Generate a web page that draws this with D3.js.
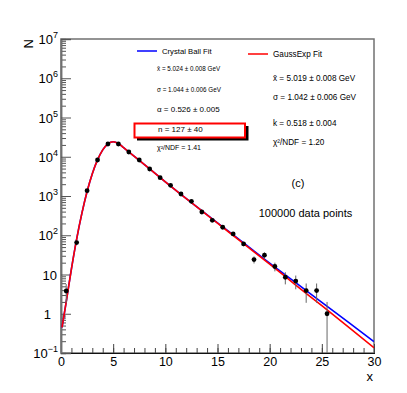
<!DOCTYPE html>
<html lang="en">
  <head>
    <meta charset="UTF-8">
    <title>Crystal Ball vs GaussExp</title>
    <style>
      body { margin: 0; background: #fff; }
      text { font-family: "Liberation Sans", Arial, sans-serif; fill: #000; }
    </style>
  </head>
  <body>
    <svg id="chart"></svg>

    <script src="https://cdn.jsdelivr.net/npm/d3@7"></script>

    <script>
      // Histogram bins (centres) and counts
      var binCenters = [0.5, 1.5, 2.5, 3.5, 4.5, 5.5, 6.5, 7.5, 8.5, 9.5, 10.5, 11.5, 12.5,
        13.5, 14.5, 15.5, 16.5, 17.5, 18.5, 19.5, 20.5, 21.5, 22.5, 23.5, 24.5, 25.5];
      var counts = [3.8, 65, 1365, 8260, 21100, 21100, 13200, 8260, 4870, 2930, 1875, 1125, 733,
        391, 240, 160, 108, 60, 24, 31, 16, 8.5, 6.8, 3.9, 3.9, 1];
      var countErrors = [1.9, 8, 37, 91, 145, 145, 115, 91, 70, 54, 43, 34, 27,
        20, 15, 13, 10, 7.7, 4.9, 5.6, 4, 2.9, 2.6, 2, 2, 1];

      // Fit curves
      var curveX = [0.1, 0.5, 1, 1.5, 2, 2.5, 3, 3.5, 4, 4.5, 5, 5.5, 6, 7, 8, 10, 12.5, 15, 17.5, 20, 22.5, 25, 27.5, 30];
      var gaussExpY = [0.45, 2.0, 14, 80, 360, 1300, 3700, 8300, 15000, 21400, 24200, 21800, 17000,
        10400, 6300, 2300, 675, 203, 61, 18.4, 5.4, 1.6, 0.47, 0.136];
      var crystalBallY = [0.45, 2.0, 14, 80, 360, 1300, 3700, 8300, 15000, 21400, 24200, 21800, 17000,
        10400, 6300, 2300, 680, 207, 64, 19.5, 6.2, 1.95, 0.62, 0.195];

      // Axis ticks
      var xMajor = [0, 5, 10, 15, 20, 25, 30];
      var yMajorExp = [-1, 0, 1, 2, 3, 4, 5, 6, 7];

      // Legend texts
      var cbLines = ["x\u0304 = 5.024 \u00b1 0.008 GeV", "\u03c3 = 1.044 \u00b1 0.006 GeV",
        "\u03b1 = 0.526 \u00b1 0.005", "n = 127 \u00b1 40", "\u03c7\u00b2/NDF = 1.41"];
      var geLines = ["x\u0304 = 5.019 \u00b1 0.008 GeV", "\u03c3 = 1.042 \u00b1 0.006 GeV",
        "k = 0.518 \u00b1 0.004", "\u03c7\u00b2/NDF = 1.20"];

      var W = 407, H = 393;
      var fLeft = 61, fRight = 374, fTop = 39, fBottom = 353;

      var svg = d3.select("#chart").attr("width", W).attr("height", H);

      var x = d3.scaleLinear().domain([0, 30]).range([fLeft, fRight]);
      var y = d3.scaleLog().domain([0.1, 1e7]).range([fBottom, fTop]);

      svg.append("clipPath").attr("id", "frame")
        .append("rect").attr("x", fLeft).attr("y", fTop)
        .attr("width", fRight - fLeft).attr("height", fBottom - fTop);

      // Frame
      svg.append("rect")
        .attr("x", fLeft).attr("y", fTop)
        .attr("width", fRight - fLeft).attr("height", fBottom - fTop)
        .attr("fill", "none").attr("stroke", "#707070").attr("stroke-width", 1.5);

      // X axis: minor ticks every unit, major every 5 (ticks inside)
      var xMinorAxis = d3.axisBottom(x).tickValues(d3.range(0, 31, 1)).tickSize(-5).tickFormat("");
      var xMajorAxis = d3.axisBottom(x).tickValues(xMajor).tickSize(-9).tickPadding(13)
        .tickFormat(d3.format("d"));
      var gxm = svg.append("g").attr("transform", "translate(0," + fBottom + ")").call(xMinorAxis);
      var gx = svg.append("g").attr("transform", "translate(0," + fBottom + ")").call(xMajorAxis);
      [gxm, gx].forEach(function(g) {
        g.select(".domain").attr("stroke", "#111");
        g.selectAll(".tick line").attr("stroke", "#444");
      });
      gx.selectAll(".tick text").attr("font-size", 12.5).attr("dy", 0).attr("y", 13);

      // Y axis: minor ticks 2..9 per decade, major ticks at each decade
      var yMinorVals = [];
      yMajorExp.forEach(function(e) {
        if (e < 7) {
          for (var m = 2; m <= 9; m++) yMinorVals.push(m * Math.pow(10, e));
        }
      });
      var yMinorAxis = d3.axisLeft(y).tickValues(yMinorVals).tickSize(-5).tickFormat("");
      var yMajorAxis = d3.axisLeft(y).tickValues(yMajorExp.map(function(e) { return Math.pow(10, e); }))
        .tickSize(-10).tickFormat("");
      var gym = svg.append("g").attr("transform", "translate(" + fLeft + ",0)").call(yMinorAxis);
      var gy = svg.append("g").attr("transform", "translate(" + fLeft + ",0)").call(yMajorAxis);
      [gym, gy].forEach(function(g) {
        g.select(".domain").attr("stroke", "#707070").attr("stroke-width", 1.5);
        g.selectAll(".tick line").attr("stroke", "#555");
      });

      // Y tick labels, ROOT style with superscripts
      yMajorExp.forEach(function(e) {
        var yy = y(Math.pow(10, e)) + 5;
        if (e === 0) {
          svg.append("text").attr("x", 51).attr("y", yy).attr("text-anchor", "end")
            .attr("font-size", 13).text("1");
        } else if (e === 1) {
          svg.append("text").attr("x", 57).attr("y", yy).attr("text-anchor", "end")
            .attr("font-size", 13).text("10");
        } else {
          var t = svg.append("text").attr("x", 58).attr("y", yy).attr("text-anchor", "end")
            .attr("font-size", 13);
          t.append("tspan").text("10");
          t.append("tspan").attr("font-size", 9).attr("dy", -6)
            .text(e < 0 ? "\u2212" + (-e) : String(e));
        }
      });

      // Axis titles
      svg.append("text").attr("transform", "translate(33,39) rotate(-90)")
        .attr("text-anchor", "end").attr("font-size", 13).text("N");
      svg.append("text").attr("x", 373).attr("y", 381).attr("text-anchor", "end")
        .attr("font-size", 13).text("x");

      // Fit curves
      var plot = svg.append("g").attr("clip-path", "url(#frame)");
      var line = d3.line()
        .x(function(d) { return x(d[0]); })
        .y(function(d) { return y(d[1]); })
        .curve(d3.curveMonotoneX);

      plot.append("path")
        .datum(curveX.map(function(v, i) { return [v, crystalBallY[i]]; }))
        .attr("d", line).attr("fill", "none").attr("stroke", "#0000ff").attr("stroke-width", 1.6);
      plot.append("path")
        .datum(curveX.map(function(v, i) { return [v, gaussExpY[i]]; }))
        .attr("d", line).attr("fill", "none").attr("stroke", "#ff0000").attr("stroke-width", 1.6);

      // Data points with error bars
      var pts = binCenters.map(function(c, i) { return { x: c, v: counts[i], e: countErrors[i] }; });
      plot.selectAll(".err").data(pts).enter().append("line")
        .attr("class", "err")
        .attr("x1", function(d) { return x(d.x); })
        .attr("x2", function(d) { return x(d.x); })
        .attr("y1", function(d) { return d.v - d.e > 0.1 ? y(d.v - d.e) : fBottom; })
        .attr("y2", function(d) { return y(d.v + d.e); })
        .attr("stroke", "#666").attr("stroke-width", 1);
      plot.selectAll(".pt").data(pts).enter().append("circle")
        .attr("class", "pt")
        .attr("cx", function(d) { return x(d.x); })
        .attr("cy", function(d) { return y(d.v); })
        .attr("r", 2.4).attr("fill", "#000");

      // Legend: Crystal Ball (left column)
      svg.append("line").attr("x1", 137).attr("x2", 157).attr("y1", 51).attr("y2", 51)
        .attr("stroke", "#0000ff").attr("stroke-width", 1.5);
      svg.append("text").attr("x", 162).attr("y", 53.5).attr("font-size", 7.7).text("Crystal Ball Fit");

      var cbY = [70.5, 91.5, 111.5, 132, 150];
      var cbSize = [6.3, 6.3, 8, 8, 7];
      cbLines.forEach(function(s, i) {
        if (i === 3) return;
        svg.append("text").attr("x", 157).attr("y", cbY[i])
          .attr("font-size", cbSize[i]).text(s);
      });

      // Highlight box round n with shadow
      svg.append("rect").attr("x", 137).attr("y", 126).attr("width", 111.5).attr("height", 14.5)
        .attr("fill", "#000");
      svg.append("rect").attr("x", 134.5).attr("y", 123.5).attr("width", 110.5).attr("height", 14)
        .attr("fill", "#fff").attr("stroke", "#ff0000").attr("stroke-width", 2);
      svg.append("text").attr("x", 158).attr("y", cbY[3]).attr("font-size", cbSize[3]).text(cbLines[3]);

      // Legend: GaussExp (right column)
      svg.append("line").attr("x1", 248).attr("x2", 268).attr("y1", 54).attr("y2", 54)
        .attr("stroke", "#ff0000").attr("stroke-width", 1.5);
      svg.append("text").attr("x", 273).attr("y", 57).attr("font-size", 8.2).text("GaussExp Fit");

      var geY = [81, 99.5, 125.5, 145];
      geLines.forEach(function(s, i) {
        svg.append("text").attr("x", 273).attr("y", geY[i]).attr("font-size", 8.2).text(s);
      });

      // Annotations
      svg.append("text").attr("x", 298).attr("y", 187).attr("text-anchor", "middle")
        .attr("font-size", 11).text("(c)");
      svg.append("text").attr("x", 305.5).attr("y", 217).attr("text-anchor", "middle")
        .attr("font-size", 11).text("100000 data points");
    </script>
  </body>
</html>
